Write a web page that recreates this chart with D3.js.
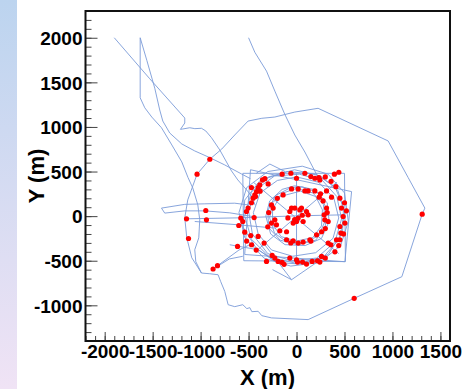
<!DOCTYPE html>
<html>
<head>
<meta charset="utf-8">
<script src="https://cdn.jsdelivr.net/npm/d3@7"></script>
<style>
  body { margin: 0; background: #fff; }
  svg { display: block; }
  .tick text { font-family: "Liberation Sans", Arial, sans-serif; font-weight: bold; font-size: 19px; fill: #000; }
</style>
</head>
<body>
<div id="chart"></div>
<script>
// axis ticks
const xTicks = [-2000, -1500, -1000, -500, 0, 500, 1000, 1500];
const yTicks = [-1000, -500, 0, 500, 1000, 1500, 2000];

// track pieces (x, y in metres)
const trackA = [[-1900,2000],[-1530,1540],[-1165,1100],[-1165,1044],[-1210,973],[-1186,977],[-1113,991],[-1060,981],[-991,985],[-946,955],[-887,880],[-800,742],[-678,507],[-612,406],[-539,317],[-470,230],[-430,120]];
const trackB = [[-1630,2000],[-1630,1750],[-1630,1327],[-1582,1215],[-1509,1111],[-1408,991],[-1300,798],[-1196,608],[-1131,432],[-1082,317],[-1029,126],[-1009,-41],[-1019,-243],[-1061,-377],[-1050,-511],[-991,-638]];
const trackC = [[-1630,2000],[-1561,1748],[-1478,1435],[-1426,1190],[-1394,1066],[-1322,932],[-1196,809],[-1061,731],[-904,656],[-748,574],[-574,473],[-480,420]];
const trackD = [[-500,2000],[-435,1838],[-313,1626],[-226,1402],[-122,1141],[-18,910],[87,719],[190,507],[230,430]];
const trackE = [[-1037,470],[-904,638],[-779,753],[-644,910],[-505,1066],[-362,1097],[-226,1111],[-123,1139],[-18,1167],[225,1209],[955,843],[1164,432],[1338,90],[1310,22],[1098,-679],[608,-918],[121,-1160],[-261,-1141],[-362,-1116],[-400,-1067],[-466,-1071],[-487,-1026],[-518,-1037],[-560,-993],[-644,-1015],[-713,-993],[-748,-844],[-790,-735],[-818,-657],[-904,-646],[-991,-638],[-1092,-467],[-1144,-243],[-1165,-19],[-1134,182],[-1037,470]];
const trackF = [[-508,126],[-644,145],[-956,138],[-1165,132],[-1408,90],[-1374,34],[-1165,59],[-956,59],[-696,37],[-435,-8]];
const trackG = [[-1147,-30],[-591,-19],[-7,3],[504,15]];
const trackH = [[-1061,-60],[-609,-97],[-226,-134]];
const trackI = [[-696,-321],[-400,-377],[-226,-508]];
const trackJ = [[-824,-556],[-600,-380],[-450,-300]];
const trackK = [[-870,-593],[-700,-480],[-560,-450]];
const outer1 = [[-20,520],[250,450],[430,290],[500,40],[450,-250],[280,-460],[0,-530],[-280,-460],[-470,-260],[-540,0],[-470,270],[-290,440],[-20,520]];
const outer2 = [[30,470],[270,400],[420,220],[470,-30],[400,-290],[210,-470],[-50,-500],[-300,-420],[-460,-200],[-500,60],[-420,300],[-230,450],[30,470]];
const outer3 = [[60,560],[330,470],[500,260],[540,-60],[460,-330],[240,-520],[-60,-560],[-340,-470],[-540,-240],[-600,40],[-520,320],[-300,500],[60,560]];
const outer4 = [[0,440],[230,380],[390,200],[440,-20],[380,-250],[200,-410],[-40,-450],[-260,-380],[-400,-200],[-450,40],[-380,260],[-200,400],[0,440]];
const outer5 = [[-100,500],[200,470],[400,330],[490,100],[480,-180],[330,-430],[80,-540],[-200,-520],[-420,-360],[-560,-120],[-540,180],[-380,400],[-100,500]];
const inner1 = [[0,310],[170,260],[280,130],[300,-50],[230,-220],[80,-300],[-100,-290],[-230,-190],[-280,-20],[-250,150],[-140,260],[0,310]];
const inner2 = [[40,280],[200,220],[270,70],[260,-110],[170,-240],[0,-280],[-160,-230],[-250,-90],[-250,80],[-170,220],[40,280]];
const inner3 = [[-20,340],[180,300],[320,150],[340,-60],[260,-250],[90,-330],[-120,-320],[-270,-200],[-320,0],[-280,170],[-150,300],[-20,340]];
const inner4 = [[60,330],[230,260],[310,90],[300,-120],[200,-270],[20,-320],[-170,-270],[-290,-130],[-300,60],[-220,230],[-60,320],[60,330]];
const box1 = [[-560,480],[500,480],[510,-510],[-550,-500],[-560,480]];
const box2 = [[-480,520],[574,275],[504,-511],[-540,-430],[-480,520]];
const spike = [[-420,480],[-278,584],[-120,500]];
const vee = [[-331,-321],[-52,-713],[225,-508]];
const vee2 = [[-250,-600],[-52,-713]];
const spoke1 = [[0,480],[0,-520]];
const spoke2 = [[-450,380],[440,-420]];
const spoke3 = [[-430,-400],[420,380]];

const tracks = [trackA, trackB, trackC, trackD, trackE, trackF, trackG, trackH, trackI, trackJ, trackK,
  outer1, outer2, outer3, outer4, outer5, inner1, inner2, inner3, inner4,
  box1, box2, spike, vee, vee2, spoke1, spoke2, spoke3];

// red markers
const dots = [
  [-904,638],[-1037,470],[-1147,-30],[-946,63],[-939,-41],[-1126,-251],[-870,-593],[-824,-556],[1310,22],[601,-922],
  [441,492],[233,432],[191,425],[149,443],[87,481],[-59,481],[0,425],[243,406],[-296,361],[-355,406],
  [-400,320],[-417,275],[-435,238],[-453,201],[-505,90],[-522,52],[-581,-22],[-602,-105],[-442,-16],[-477,-217],
  [-469,-321],[-400,-228],[-338,-302],[-615,-340],[-254,-441],[-226,-470],[-192,-508],[-313,-508],[-150,-519],[-70,-470],
  [0,-489],[10,-515],[63,-515],[104,-537],[163,-508],[219,-500],[261,-452],[243,-515],[330,-302],[358,-321],
  [417,-265],[452,-265],[462,-190],[452,-116],[504,-78],[486,-4],[469,90],[452,201],[365,213],[313,283],
  [-140,238],[-52,305],[17,305],[87,283],[121,283],[191,283],[236,213],[277,171],[-261,126],[-244,90],
  [-226,-41],[-261,-78],[-209,-97],[-174,-164],[-104,-175],[-104,-265],[-35,-276],[17,-302],[69,-291],[139,-265],
  [209,-209],[261,-175],[295,-41],[330,-60],[313,90],[288,15],
  [-52,90],[-18,90],[34,70],[17,-22],[-35,-78],[0,-60],[69,-60],[104,52],[121,15],[-70,52],[52,90],
  [-383,350],[-428,219],
  [395,470],[300,440],[-150,470],[-330,420],[-470,150],[-560,-60],[-540,-180],[-520,-280],[-420,-380],[-130,-540],
  [300,-470],[400,-400],[440,-330],[490,-200],[520,60],[500,150],[410,330],[360,390],[-380,280],[-470,320],
  [250,250],[-200,200],[-290,40],[-300,-120],[150,-280],[300,-140],[320,40],[-60,-300],[-20,-40],[60,10],[-90,-20]
];

const width = 468, height = 389;
const x = d3.scaleLinear().domain([-2200, 1600]).range([85.5, 450]);
const y = d3.scaleLinear().domain([-1400, 2300]).range([341, 11]);

const svg = d3.select("#chart").append("svg")
  .attr("width", width)
  .attr("height", height);

const grad = svg.append("defs").append("linearGradient")
  .attr("id", "side")
  .attr("x1", 0).attr("y1", 0).attr("x2", 0).attr("y2", 1);
grad.append("stop").attr("offset", 0).attr("stop-color", "#bcd4ef");
grad.append("stop").attr("offset", 1).attr("stop-color", "#f0e3f5");

svg.append("rect")
  .attr("x", 0).attr("y", 0)
  .attr("width", 17).attr("height", height)
  .attr("fill", "url(#side)");

// tracks
const line = d3.line().x(d => x(d[0])).y(d => y(d[1]));
svg.append("g")
  .attr("fill", "none")
  .attr("stroke", "#7b9bd8")
  .attr("stroke-width", 0.9)
  .selectAll("path")
  .data(tracks)
  .join("path")
  .attr("d", line);

// dots
svg.append("g")
  .attr("fill", "#ff0000")
  .selectAll("circle")
  .data(dots)
  .join("circle")
  .attr("cx", d => x(d[0]))
  .attr("cy", d => y(d[1]))
  .attr("r", 2.6);

// minor ticks
svg.append("g")
  .attr("transform", "translate(85.5,0)")
  .call(d3.axisLeft(y).tickValues(d3.range(-1400, 2301, 100)).tickSize(-6).tickFormat(""))
  .call(g => g.select(".domain").remove())
  .selectAll("line").attr("stroke", "#444");
svg.append("g")
  .attr("transform", "translate(0,341)")
  .call(d3.axisBottom(x).tickValues(d3.range(-2200, 1601, 100)).tickSize(-5).tickFormat(""))
  .call(g => g.select(".domain").remove())
  .selectAll("line").attr("stroke", "#444");

// major ticks + labels (plain hyphen for negatives)
const yAxis = svg.append("g")
  .attr("transform", "translate(85.5,0)")
  .call(d3.axisLeft(y).tickValues(yTicks).tickSize(-12).tickPadding(3).tickFormat(d => String(d)));
yAxis.select(".domain").remove();
yAxis.selectAll("line").attr("stroke", "#444");
yAxis.selectAll("text").attr("dy", "0.36em");

const xAxis = svg.append("g")
  .attr("transform", "translate(0,341)")
  .call(d3.axisBottom(x).tickValues(xTicks).tickSize(-9).tickPadding(4).tickFormat(d => String(d)));
xAxis.select(".domain").remove();
xAxis.selectAll("line").attr("stroke", "#444");

// frame
svg.append("rect")
  .attr("x", 85.5).attr("y", 11)
  .attr("width", 450 - 85.5).attr("height", 341 - 11)
  .attr("fill", "none")
  .attr("stroke", "#111")
  .attr("stroke-width", 2);

// titles
svg.append("text")
  .attr("x", 267.5).attr("y", 384.5)
  .attr("text-anchor", "middle")
  .attr("font-family", "Liberation Sans, Arial, sans-serif")
  .attr("font-weight", "bold")
  .attr("font-size", 22)
  .text("X (m)");

svg.append("text")
  .attr("transform", "translate(43.5,176) rotate(-90)")
  .attr("text-anchor", "middle")
  .attr("font-family", "Liberation Sans, Arial, sans-serif")
  .attr("font-weight", "bold")
  .attr("font-size", 22)
  .text("Y (m)");
</script>
</body>
</html>
